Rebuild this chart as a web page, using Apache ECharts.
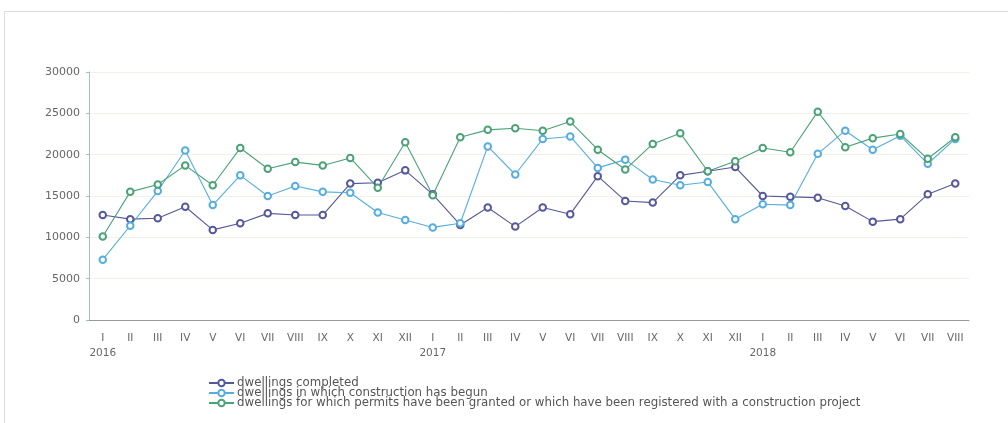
<!DOCTYPE html>
<html>
<head>
<meta charset="utf-8">
<script src="https://cdn.jsdelivr.net/npm/echarts@6/dist/echarts.min.js"></script>
<style>html,body{margin:0;padding:0;background:#fff;}#c{width:1008px;height:423px;}</style>
</head>
<body>
<div id="c"></div>
<script>
var months = ['I','II','III','IV','V','VI','VII','VIII','IX','X','XI','XII',
              'I','II','III','IV','V','VI','VII','VIII','IX','X','XI','XII',
              'I','II','III','IV','V','VI','VII','VIII'];
var yearLabels = {0:'2016', 12:'2017', 24:'2018'};
var yTicks = [0, 5000, 10000, 15000, 20000, 25000, 30000];

var completed = [12700,12200,12300,13700,10900,11700,12900,12700,12700,16500,16600,18100,
                 15200,11500,13600,11300,13600,12800,17400,14400,14200,17500,18000,18500,
                 15000,14900,14800,13800,11900,12200,15200,16500];
var begun = [7300,11400,15600,20500,13900,17500,15000,16200,15500,15400,13000,12100,
             11200,11700,21000,17600,21900,22200,18400,19400,17000,16300,16700,12200,
             14000,13900,20100,22900,20600,22300,18900,21900];
var permits = [10100,15500,16400,18700,16300,20800,18300,19100,18700,19600,16000,21500,
               15100,22100,23000,23200,22900,24000,20600,18200,21300,22600,18000,19200,
               20800,20300,25200,20900,22000,22500,19500,22100];

var seriesNames = ['dwellings completed',
                   'dwellings in which construction has begun',
                   'dwellings for which permits have been granted or which have been registered with a construction project'];
var colors = ['#55589a', '#55ade0', '#4aa276'];

var categories = months.map(function(m, i){ return yearLabels[i] ? m + '\n' + yearLabels[i] : m; });

function mk(name, data, color){
  return {
    name: name, type: 'line', data: data,
    symbol: 'emptyCircle', symbolSize: 6.5,
    lineStyle: {color: color, width: 1.1},
    itemStyle: {color: color, borderWidth: 1.1},
    emphasis: {disabled: true},
    animation: false
  };
}

var chart = echarts.init(document.getElementById('c'), null, {renderer: 'canvas'});
chart.setOption({
  backgroundColor: '#fff',
  animation: false,
  graphic: [{
    type: 'rect', shape: {x: 4.5, y: 11.5, width: 1020, height: 430},
    style: {fill: 'none', stroke: '#dcdcdc', lineWidth: 1}, silent: true, z: -1
  }],
  grid: {left: 89, right: 39, top: 72, bottom: 103, containLabel: false},
  xAxis: {
    type: 'category', data: categories, boundaryGap: true,
    axisLine: {lineStyle: {color: '#9a9a9a', width: 1}},
    axisTick: {show: false},
    axisLabel: {color: '#666', fontFamily: 'DejaVu Sans', fontSize: 10.5, margin: 11, lineHeight: 15, interval: 0}
  },
  yAxis: {
    type: 'value', min: 0, max: 30000, interval: 5000,
    axisLine: {show: true, lineStyle: {color: '#a8c0bc', width: 1}},
    axisTick: {show: true, length: 3, lineStyle: {color: '#a8c0bc'}},
    axisLabel: {color: '#666', fontFamily: 'DejaVu Sans', fontSize: 11, margin: 9,
      formatter: function(v){ return yTicks.indexOf(v) >= 0 ? String(v) : ''; }},
    splitLine: {lineStyle: {color: '#f3efe9', width: 1}}
  },
  legend: {
    orient: 'vertical', left: 203, top: 372,
    itemWidth: 25, itemHeight: 8, itemGap: -2,
    textStyle: {color: '#555', fontFamily: 'DejaVu Sans', fontSize: 11.8, lineHeight: 10, padding: [0,0,0,-2]},
    data: seriesNames
  },
  series: [mk(seriesNames[0], completed, colors[0]),
           mk(seriesNames[1], begun, colors[1]),
           mk(seriesNames[2], permits, colors[2])]
});
</script>
</body>
</html>
